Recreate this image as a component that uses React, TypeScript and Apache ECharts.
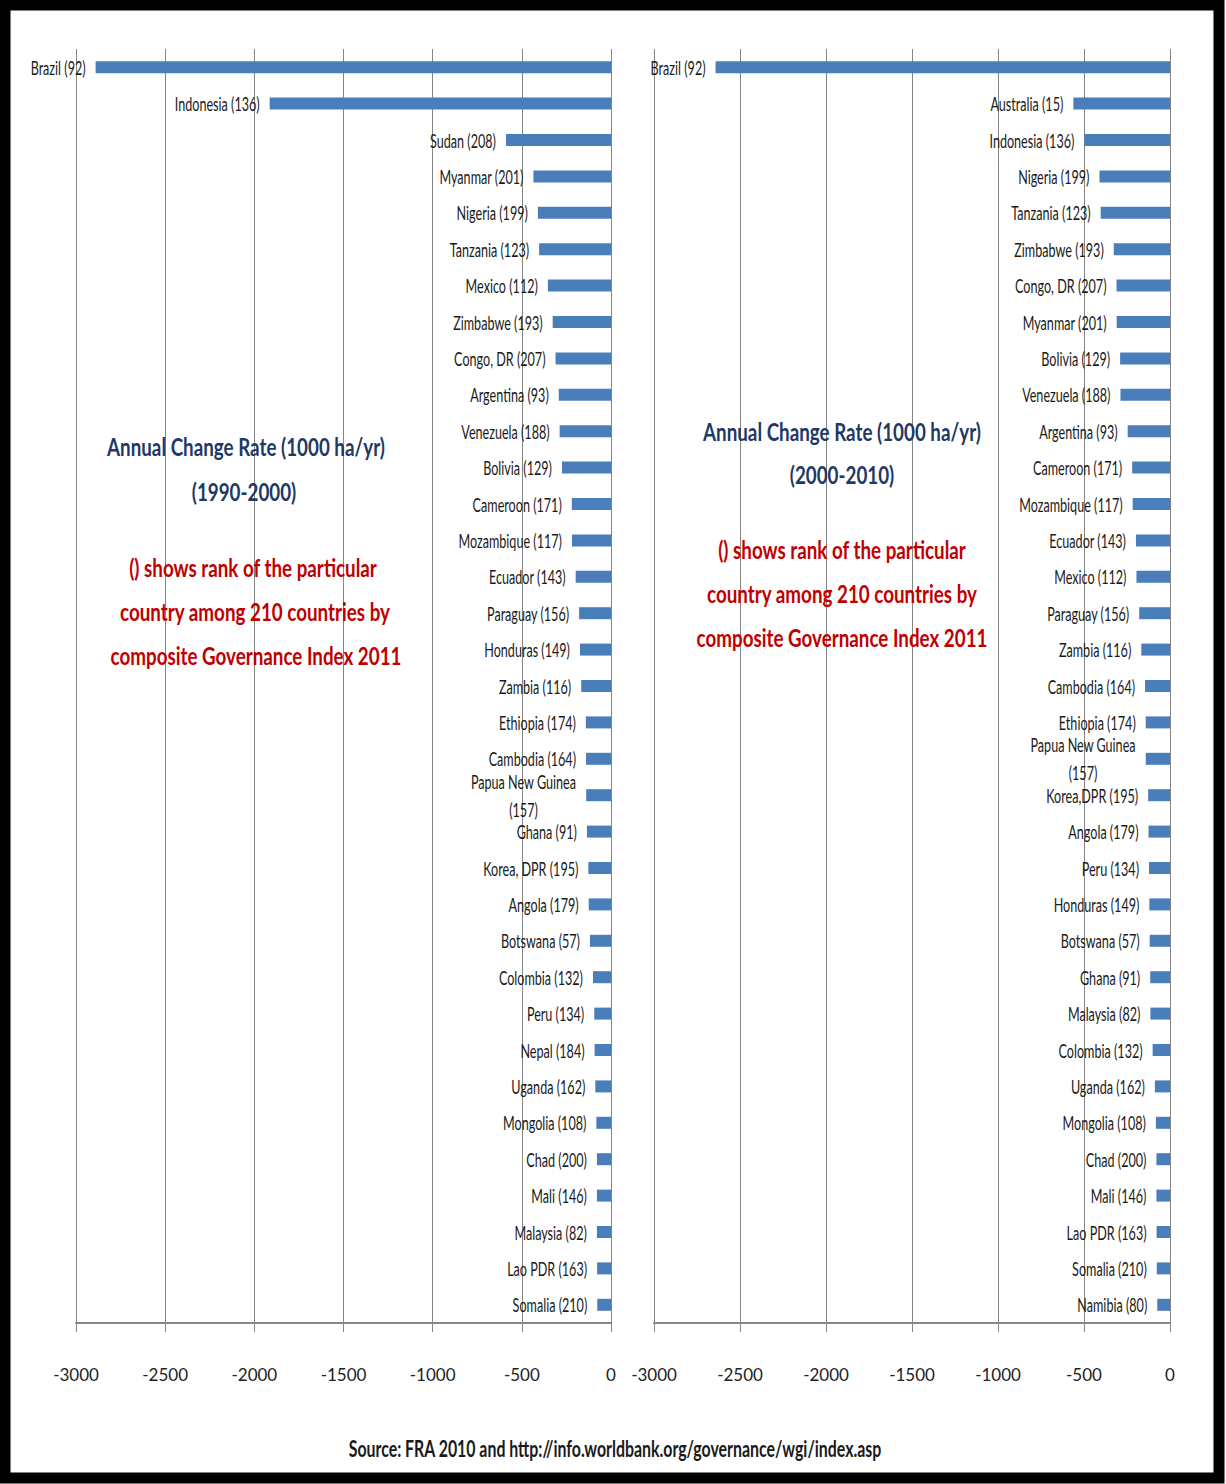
import React, { useEffect, useRef } from "react";
import * as echarts from "echarts";

const leftCategories = [
  "Brazil (92)", "Indonesia (136)", "Sudan (208)", "Myanmar (201)", "Nigeria (199)",
  "Tanzania (123)", "Mexico (112)", "Zimbabwe (193)", "Congo, DR (207)", "Argentina (93)",
  "Venezuela (188)", "Bolivia (129)", "Cameroon (171)", "Mozambique (117)", "Ecuador (143)",
  "Paraguay (156)", "Honduras (149)", "Zambia (116)", "Ethiopia (174)", "Cambodia (164)",
  "Papua New Guinea (157)", "Ghana (91)", "Korea, DPR (195)", "Angola (179)", "Botswana (57)",
  "Colombia (132)", "Peru (134)", "Nepal (184)", "Uganda (162)", "Mongolia (108)",
  "Chad (200)", "Mali (146)", "Malaysia (82)", "Lao PDR (163)", "Somalia (210)",
];
const leftValues = [
  -2890, -1914, -589, -435, -410, -403, -354, -327, -311, -293,
  -288, -275, -220, -219, -198, -179, -174, -167, -141, -140,
  -139, -135, -127, -125, -118, -101, -94, -92, -88, -82,
  -79, -79, -79, -78, -77,
];

const rightCategories = [
  "Brazil (92)", "Australia (15)", "Indonesia (136)", "Nigeria (199)", "Tanzania (123)",
  "Zimbabwe (193)", "Congo, DR (207)", "Myanmar (201)", "Bolivia (129)", "Venezuela (188)",
  "Argentina (93)", "Cameroon (171)", "Mozambique (117)", "Ecuador (143)", "Mexico (112)",
  "Paraguay (156)", "Zambia (116)", "Cambodia (164)", "Ethiopia (174)", "Papua New Guinea (157)",
  "Korea,DPR (195)", "Angola (179)", "Peru (134)", "Honduras (149)", "Botswana (57)",
  "Ghana (91)", "Malaysia (82)", "Colombia (132)", "Uganda (162)", "Mongolia (108)",
  "Chad (200)", "Mali (146)", "Lao PDR (163)", "Somalia (210)", "Namibia (80)",
];
const rightValues = [
  -2642, -562, -498, -410, -403, -327, -311, -310, -290, -288,
  -246, -220, -217, -198, -195, -179, -167, -145, -141, -141,
  -127, -125, -122, -120, -118, -115, -114, -101, -88, -82,
  -79, -79, -78, -77, -74,
];

const axisTicks = [-3000, -2500, -2000, -1500, -1000, -500, 0];

const heading = "Annual Change Rate (1000 ha/yr)";
const leftPeriod = "(1990-2000)";
const rightPeriod = "(2000-2010)";
const noteLines = [
  "() shows rank of the particular",
  "country among 210 countries by",
  "composite Governance Index 2011",
];
const sourceText = "Source: FRA 2010 and http://info.worldbank.org/governance/wgi/index.asp";

const FONT = "Lato, 'Open Sans', 'Liberation Sans', sans-serif";

let measureCtx: CanvasRenderingContext2D | null = null;
function measure(text: string, font: string) {
  if (!measureCtx) measureCtx = document.createElement("canvas").getContext("2d");
  if (!measureCtx) return text.length * 8;
  measureCtx.font = font;
  return measureCtx.measureText(text).width;
}

const LABEL_SIZE = 17;
const LABEL_FONT = `${LABEL_SIZE}px ${FONT}`;
const LABEL_SY = 1.08;
const ANNO_SIZE = 25;
const ANNO_FONT = `bold ${ANNO_SIZE}px ${FONT}`;

function makeAxes(gridIndex: number, cats: string[]) {
  const x = {
    type: "value",
    gridIndex,
    min: axisTicks[0],
    max: axisTicks[axisTicks.length - 1],
    interval: 500,
    position: "bottom",
    axisLine: { show: true, onZero: false, lineStyle: { color: "#868686", width: 2 } },
    axisTick: { show: true, length: 9, lineStyle: { color: "#868686", width: 1 } },
    axisLabel: {
      show: true,
      margin: 43,
      fontSize: 17,
      color: "#222",
      fontFamily: FONT,
      showMinLabel: true,
      showMaxLabel: true,
      formatter: (v: number) => String(v),
    },
    splitLine: { show: true, lineStyle: { color: "#858585", width: 1 } },
  };
  const y = {
    type: "category",
    gridIndex,
    data: cats,
    inverse: true,
    axisLine: { show: false },
    axisTick: { show: false },
    axisLabel: { show: false },
    splitLine: { show: false },
  };
  return { x, y };
}

function makeBars(idx: number, values: number[]) {
  return {
    type: "bar",
    xAxisIndex: idx,
    yAxisIndex: idx,
    data: values,
    barWidth: 12,
    itemStyle: { color: "#4a7ebb" },
    z: 2,
  };
}

function makeLabels(idx: number, cats: string[], values: number[], sx: number) {
  return {
    type: "custom",
    xAxisIndex: idx,
    yAxisIndex: idx,
    z: 5,
    clip: false,
    silent: true,
    data: values.map((v, i) => [v, i, cats[i]]),
    encode: { x: 0, y: 1 },
    renderItem: (params: any, api: any) => {
      const i = params.dataIndex;
      const name = cats[i];
      const pt = api.coord([api.value(0), api.value(1)]);
      const ax = pt[0] - 10;
      const ay = pt[1];
      if (name.length > 18) {
        const k = name.lastIndexOf(" (");
        const l1 = name.slice(0, k);
        const l2 = name.slice(k + 1);
        const half = (measure(l1, LABEL_FONT) * sx) / 2;
        const cx = ax - half;
        const mk = (t: string, y: number) => ({
          type: "text",
          x: cx,
          y,
          scaleX: sx,
          scaleY: LABEL_SY,
          style: {
            text: t,
            font: LABEL_FONT,
            fill: "#1a1a1a",
            textAlign: "center",
            align: "center",
            textVerticalAlign: "middle",
            verticalAlign: "middle",
          },
        });
        return { type: "group", children: [mk(l1, ay - 14), mk(l2, ay + 14)] };
      }
      return {
        type: "text",
        x: ax,
        y: ay,
        scaleX: sx,
        scaleY: LABEL_SY,
        style: {
          text: name,
          font: LABEL_FONT,
          fill: "#1a1a1a",
          textAlign: "right",
          align: "right",
          textVerticalAlign: "middle",
          verticalAlign: "middle",
        },
      };
    },
  };
}

function textEl(text: string, x: number, y: number, fill: string, font: string, sx: number, sy = 1) {
  return {
    type: "text",
    x,
    y,
    scaleX: sx,
    scaleY: sy,
    z: 100,
    style: {
      text,
      fill,
      font,
      textAlign: "center",
      align: "center",
      textVerticalAlign: "middle",
      verticalAlign: "middle",
    },
  };
}

export default function App() {
  const ref = useRef<HTMLDivElement>(null);
  useEffect(() => {
    if (!ref.current) return;
    const chart = echarts.init(ref.current, null, { renderer: "svg" });
    const a0 = makeAxes(0, leftCategories);
    const a1 = makeAxes(1, rightCategories);
    const navy = "#1f3864";
    const red = "#c00000";
    const labelSX = 85 / measure("Indonesia (136)", LABEL_FONT);
    const annoSX = 278 / measure(heading, ANNO_FONT);
    const srcSX = 534 / measure(sourceText, ANNO_FONT);
    chart.setOption({
      animation: false,
      backgroundColor: "#ffffff",
      grid: [
        { left: 76, width: 535, top: 49, height: 1274, containLabel: false },
        { left: 654, width: 516, top: 49, height: 1274, containLabel: false },
      ],
      xAxis: [a0.x, a1.x],
      yAxis: [a0.y, a1.y],
      series: [
        makeBars(0, leftValues),
        makeBars(1, rightValues),
        makeLabels(0, leftCategories, leftValues, labelSX),
        makeLabels(1, rightCategories, rightValues, labelSX),
      ],
      graphic: [
        {
          type: "rect",
          shape: { x: 5, y: 5, width: 1214, height: 1473 },
          style: { fill: "none", stroke: "#000", lineWidth: 11 },
          z: 200,
        },
        textEl(heading, 246, 446, navy, ANNO_FONT, annoSX),
        textEl(leftPeriod, 244, 491, navy, ANNO_FONT, annoSX),
        textEl(noteLines[0], 253, 567, red, ANNO_FONT, annoSX),
        textEl(noteLines[1], 255, 611, red, ANNO_FONT, annoSX),
        textEl(noteLines[2], 256, 655, red, ANNO_FONT, annoSX),
        textEl(heading, 842, 431, navy, ANNO_FONT, annoSX),
        textEl(rightPeriod, 842, 474, navy, ANNO_FONT, annoSX),
        textEl(noteLines[0], 842, 549, red, ANNO_FONT, annoSX),
        textEl(noteLines[1], 842, 593, red, ANNO_FONT, annoSX),
        textEl(noteLines[2], 842, 637, red, ANNO_FONT, annoSX),
        textEl(sourceText, 615, 1448, "#1a1a1a", ANNO_FONT, srcSX, 0.95),
      ],
    });
    return () => chart.dispose();
  }, []);
  return (
    <div
      ref={ref}
      style={{ position: "absolute", left: 0, top: 0, width: 1226, height: 1484 }}
    />
  );
}
